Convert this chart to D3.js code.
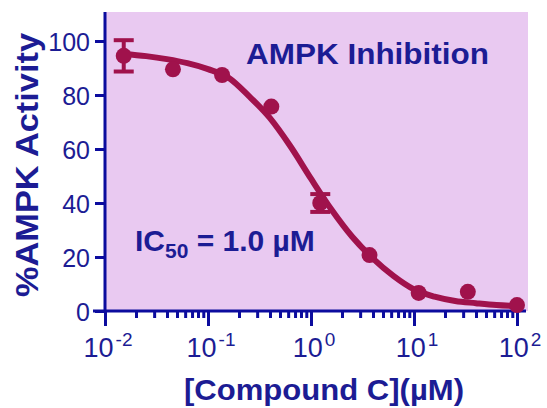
<!DOCTYPE html>
<html lang="en">
<head>
  <meta charset="UTF-8">
  <title>AMPK Inhibition</title>
  <script src="https://d3js.org/d3.v7.min.js"></script>
  <style>
    body { margin: 0; padding: 0; background: #fff; }
    svg { display: block; font-family: "Liberation Sans", Arial, sans-serif; }
    .tick text { fill: #1c1c94; }
  </style>
</head>
<body>
<svg id="chart" width="547" height="408"></svg>

<script>
  // measured points (concentration in uM, % activity, SEM)
  const conc = [0.0152, 0.0457, 0.137, 0.412, 1.23, 3.70, 11.1, 33.3, 100];
  const activity = [94.5, 89.5, 87.4, 75.7, 40.0, 20.7, 6.7, 7.1, 2.2];
  const sem = [5.8, 0, 0, 0, 3.3, 0, 0, 0, 0];

  // fitted curve (log10 conc, % activity)
  const fitLogConc = [-1.82, -1.6, -1.4, -1.2, -1.0, -0.8, -0.6, -0.4, -0.2, 0.0, 0.2, 0.4, 0.6, 0.8, 1.0, 1.2, 1.4, 1.6, 1.8, 2.0];
  const fitActivity = [95.2, 94.4, 93.3, 91.8, 89.6, 86.4, 79.5, 71.5, 61.0, 49.0, 37.5, 27.5, 19.5, 13.0, 8.0, 5.3, 3.7, 2.9, 2.2, 1.8];

  const yTicks = [0, 20, 40, 60, 80, 100];
  const xDecades = [-2, -1, 0, 1, 2];

  const navy = "#1c1c94", axisBlue = "#0c0c9e", wine = "#a0124c", bg = "#e9c9f1";

  const svg = d3.select("#chart");
  const x = d3.scaleLog().domain([0.01, 100]).range([105, 517]);
  const y = d3.scaleLinear().domain([0, 100]).range([311, 41]);

  // plot background
  svg.append("rect")
    .attr("x", 105).attr("y", 12)
    .attr("width", 528 - 105).attr("height", 311 - 12)
    .attr("fill", bg);

  // y axis
  const yAxis = svg.append("g")
    .attr("transform", "translate(105,0)")
    .call(d3.axisLeft(y).tickValues(yTicks).tickSize(10).tickPadding(5));
  yAxis.select(".domain").attr("d", "M0,12V311").attr("stroke", axisBlue).attr("stroke-width", 3);
  yAxis.selectAll(".tick line").attr("stroke", axisBlue).attr("stroke-width", 3);
  yAxis.selectAll(".tick text").attr("font-size", 25).attr("dy", "0.36em");

  // x axis: minor ticks
  const minors = [];
  xDecades.slice(0, -1).forEach(d => {
    for (let k = 2; k <= 9; k++) minors.push(k * Math.pow(10, d));
  });
  const xMinor = svg.append("g")
    .attr("transform", "translate(0,311)")
    .call(d3.axisBottom(x).tickValues(minors).tickSize(7).tickFormat(""));
  xMinor.select(".domain").remove();
  xMinor.selectAll(".tick line").attr("stroke", axisBlue).attr("stroke-width", 3);

  // x axis: major ticks and domain
  const xAxis = svg.append("g")
    .attr("transform", "translate(0,311)")
    .call(d3.axisBottom(x).tickValues(xDecades.map(d => Math.pow(10, d))).tickSize(15).tickFormat(""));
  xAxis.select(".domain").attr("d", "M93,0H526").attr("stroke", axisBlue).attr("stroke-width", 3);
  xAxis.selectAll(".tick line").attr("stroke", axisBlue).attr("stroke-width", 3);

  // decade labels with superscripts
  const lbl = svg.append("g").selectAll("text")
    .data(xDecades)
    .join("text")
      .attr("x", d => x(Math.pow(10, d)) + 3)
      .attr("y", 357)
      .attr("text-anchor", "middle")
      .attr("fill", navy)
      .attr("font-size", 27);
  lbl.append("tspan").text("10");
  lbl.append("tspan")
    .attr("dx", 2)
    .attr("dy", -11)
    .attr("font-size", 19)
    .text(d => d < 0 ? "-" + (-d) : String(d));

  // fitted curve
  const line = d3.line()
    .x(d => x(Math.pow(10, d[0])))
    .y(d => y(d[1]))
    .curve(d3.curveMonotoneX);
  svg.append("path")
    .datum(fitLogConc.map((c, i) => [c, fitActivity[i]]))
    .attr("d", line)
    .attr("fill", "none")
    .attr("stroke", wine)
    .attr("stroke-width", 6);

  // error bars
  const pts = conc.map((c, i) => ({ c, v: activity[i], e: sem[i] }));
  const eb = svg.append("g").selectAll("g")
    .data(pts.filter(d => d.e > 0))
    .join("g")
      .attr("stroke", wine)
      .attr("stroke-width", 4);
  eb.append("line")
    .attr("x1", d => x(d.c)).attr("x2", d => x(d.c))
    .attr("y1", d => y(d.v + d.e)).attr("y2", d => y(d.v - d.e));
  eb.append("line")
    .attr("x1", d => x(d.c) - 10).attr("x2", d => x(d.c) + 10)
    .attr("y1", d => y(d.v + d.e)).attr("y2", d => y(d.v + d.e));
  eb.append("line")
    .attr("x1", d => x(d.c) - 10).attr("x2", d => x(d.c) + 10)
    .attr("y1", d => y(d.v - d.e)).attr("y2", d => y(d.v - d.e));

  // points
  svg.append("g").selectAll("circle")
    .data(pts)
    .join("circle")
      .attr("cx", d => x(d.c))
      .attr("cy", d => y(d.v))
      .attr("r", 8)
      .attr("fill", wine);

  // texts
  svg.append("text")
    .attr("x", 246).attr("y", 64)
    .attr("fill", navy).attr("font-size", 29).attr("font-weight", "bold")
    .attr("textLength", 243).attr("lengthAdjust", "spacingAndGlyphs")
    .text("AMPK Inhibition");

  const ic = svg.append("text")
    .attr("x", 135).attr("y", 251)
    .attr("fill", navy).attr("font-size", 30).attr("font-weight", "bold");
  ic.append("tspan").text("IC");
  ic.append("tspan").attr("dy", 7).attr("font-size", 21).text("50");
  ic.append("tspan").attr("dy", -7).text(" = 1.0 \u00b5M");

  svg.append("text")
    .attr("transform", "translate(38,165) rotate(-90)")
    .attr("text-anchor", "middle")
    .attr("fill", navy).attr("font-size", 31).attr("font-weight", "bold")
    .attr("textLength", 264).attr("lengthAdjust", "spacingAndGlyphs")
    .text("%AMPK Activity");

  svg.append("text")
    .attr("x", 324).attr("y", 400)
    .attr("text-anchor", "middle")
    .attr("fill", navy).attr("font-size", 30).attr("font-weight", "bold")
    .attr("textLength", 280).attr("lengthAdjust", "spacingAndGlyphs")
    .text("[Compound C](\u00b5M)");
</script>
</body>
</html>
